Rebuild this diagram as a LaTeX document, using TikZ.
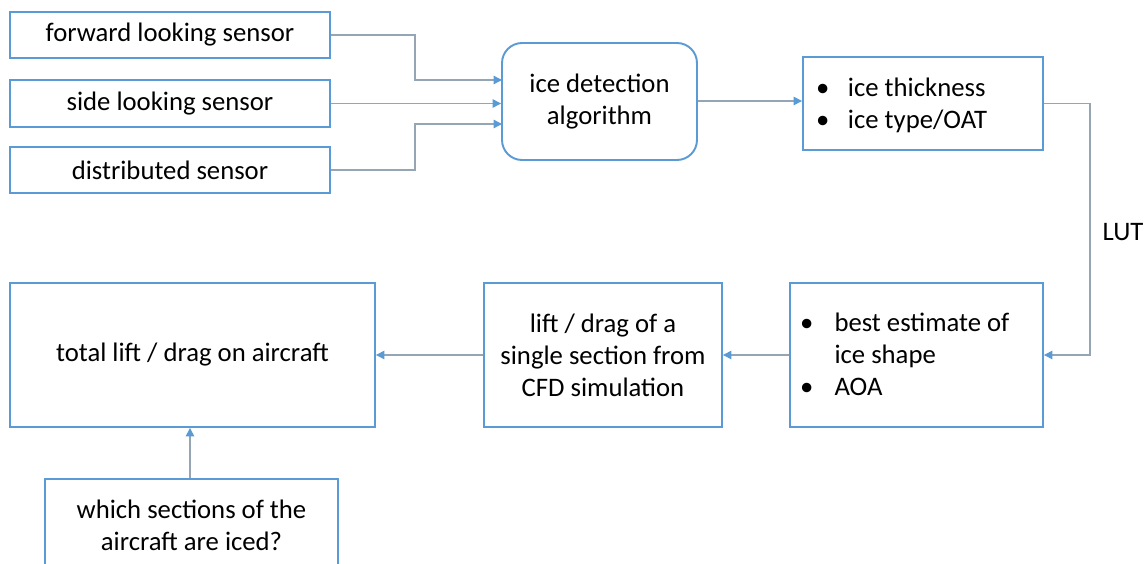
\documentclass[tikz,border=0pt]{standalone}
\usepackage{fontspec}
\setmainfont{Carlito}
\usepackage{tikz}
\usetikzlibrary{positioning, arrows.meta}
\definecolor{boxblue}{RGB}{91,155,213}
\definecolor{linkgray}{RGB}{150,165,180}

\begin{document}
\begin{tikzpicture}[
            x=0.02cm, y=-0.02cm,
            font=\fontsize{15.2}{18.3}\selectfont,
            box/.style={draw=boxblue, line width=1.1pt, inner sep=4pt},
            link/.style={draw=linkgray, line width=0.8pt,
                -{Triangle[length=0.17cm, width=0.17cm, color=boxblue]}},
        ]
            \useasboundingbox (0,0) rectangle (1147,564);
            % sensors
            \node[box, minimum width=6.4cm, minimum height=0.92cm] (fwd) at (170,35) {forward looking sensor};
            \node[box, minimum width=6.4cm, minimum height=0.94cm] (side) at (170,103.5) {side looking sensor};
            \node[box, minimum width=6.4cm, minimum height=0.92cm] (dist) at (170,170) {distributed sensor};
            % detection
            \node[box, rounded corners=0.4cm, align=center, minimum width=3.9cm, minimum height=2.34cm] (det) at (599.5,101.5) {ice detection\\algorithm};
            \node[box, minimum width=4.8cm, minimum height=1.86cm] (thick) at (923,103.5) {};
            \node[anchor=west] at (810,106) {%
                \begin{tabular}{@{}l@{\hspace{0.37cm}}l@{}}
                \textbullet & ice thickness\\
                \textbullet & ice type/OAT
                \end{tabular}};
            \node[box, minimum width=5.06cm, minimum height=2.88cm] (best) at (916.5,355) {};
            \node[anchor=west] at (794,357) {%
                \begin{tabular}{@{}l@{\hspace{0.42cm}}l@{}}
                \textbullet & best estimate of\\
                & ice shape\\
                \textbullet & AOA
                \end{tabular}};
            \node[box, align=center, minimum width=4.76cm, minimum height=2.88cm] (lift) at (603,355) {lift / drag of a\\single section from\\CFD simulation};
            \node[box, minimum width=7.3cm, minimum height=2.88cm] (total) at (192.5,355) {total lift / drag on aircraft};
            \node[box, align=center, minimum width=5.86cm, minimum height=1.84cm] (which) at (191.5,525) {which sections of the\\aircraft are iced?};
            % connectors
            \coordinate (in1) at (502,80);
            \coordinate (in3) at (502,124);
            \draw[link] (fwd.east) -- (415,35) |- (in1);
            \draw[link] (side.east) -- (side.east -| det.west);
            \draw[link] (dist.east) -- (415,170) |- (in3);
            \draw[link] (det.east |- 0,101) -- (thick.west |- 0,101);
            \draw[link] (thick.east) -- ++(46,0) |- (best.east);
            \node (lut) at (1123,232) {LUT};
            \draw[link] (best.west) -- (lift.east);
            \draw[link] (lift.west) -- (total.west -| total.east);
            \draw[link] (which.north -| 190,0) -- (total.south -| 190,0);
        \end{tikzpicture}
\end{document}
